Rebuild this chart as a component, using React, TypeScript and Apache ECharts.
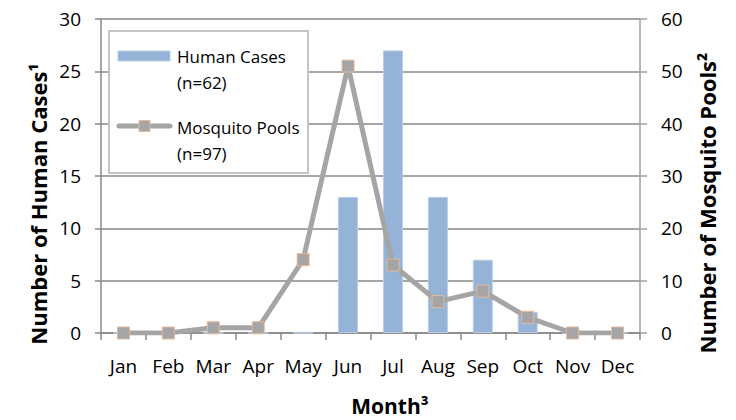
import React, { useEffect, useRef } from "react";
import * as echarts from "echarts";

const months = ["Jan", "Feb", "Mar", "Apr", "May", "Jun", "Jul", "Aug", "Sep", "Oct", "Nov", "Dec"];
const humanCases = [0, 0, 0, 0, 0, 13, 27, 13, 7, 2, 0, 0];
const mosquitoPools = [0, 0, 1, 1, 14, 51, 13, 6, 8, 3, 0, 0];
const humanLabel = "Human Cases";
const humanN = "(n=62)";
const poolLabel = "Mosquito Pools";
const poolN = "(n=97)";
const leftTitle = "Number of Human Cases¹";
const rightTitle = "Number of Mosquito Pools²";
const xTitle = "Month³";

const FONT = "'Open Sans', 'Noto Sans', sans-serif";
const GRID_COLOR = "#898989";

export default function App() {
  const ref = useRef<HTMLDivElement>(null);
  useEffect(() => {
    document.body.style.margin = "0";
    if (!ref.current) return;
    const chart = echarts.init(ref.current, null, { renderer: "svg" });
    chart.setOption({
      animation: false,
      backgroundColor: "#ffffff",
      textStyle: { fontFamily: FONT },
      grid: { left: 101, right: 96, top: 19, bottom: 87 },
      xAxis: {
        type: "category",
        data: months,
        boundaryGap: true,
        axisLine: { lineStyle: { color: GRID_COLOR, width: 1.5 } },
        axisTick: { show: true, length: 7, interval: 0, lineStyle: { color: GRID_COLOR, width: 1.5 } },
        axisLabel: { color: "#000", fontSize: 19, margin: 23, interval: 0, fontFamily: FONT },
      },
      yAxis: [
        {
          type: "value",
          min: 0,
          max: 30,
          interval: 5,
          axisLine: { show: true, lineStyle: { color: GRID_COLOR, width: 1.5 } },
          axisTick: { show: true, length: 6, lineStyle: { color: GRID_COLOR, width: 1.5 } },
          axisLabel: { color: "#000", fontSize: 19, margin: 20, fontFamily: FONT },
          splitLine: { show: true, lineStyle: { color: GRID_COLOR, width: 1.5 } },
        },
        {
          type: "value",
          min: 0,
          max: 60,
          interval: 10,
          axisLine: { show: true, lineStyle: { color: "#a0a0a0", width: 1.5 } },
          axisTick: { show: true, length: 7, lineStyle: { color: "#a0a0a0", width: 1.5 } },
          axisLabel: { color: "#000", fontSize: 19, margin: 21, fontFamily: FONT },
          splitLine: { show: false },
        },
      ],
      series: [
        {
          name: humanLabel,
          type: "bar",
          data: humanCases,
          yAxisIndex: 0,
          barWidth: 20,
          itemStyle: { color: "#95B3D7", borderColor: "#B9CDE5", borderWidth: 1 },
        },
        {
          name: poolLabel,
          type: "line",
          data: mosquitoPools,
          yAxisIndex: 1,
          symbol: "rect",
          symbolSize: 12,
          lineStyle: { color: "#A5A5A5", width: 5 },
          itemStyle: { color: "#A5A5A5", borderColor: "#E3B99C", borderWidth: 1 },
          z: 3,
        },
      ],
      graphic: [
        {
          type: "rect",
          shape: { x: 109, y: 31, width: 199, height: 142 },
          style: { fill: "#ffffff", stroke: "#C4C4C4", lineWidth: 2 },
          z: 10,
        },
        {
          type: "rect",
          shape: { x: 118, y: 51, width: 52, height: 10 },
          style: { fill: "#95B3D7", stroke: "#B9CDE5", lineWidth: 1 },
          z: 11,
        },
        {
          type: "text",
          x: 177,
          y: 56,
          style: { text: humanLabel, font: `17px ${FONT}`, fill: "#000", verticalAlign: "middle" },
          z: 11,
        },
        {
          type: "text",
          x: 177,
          y: 82,
          style: { text: humanN, font: `17px ${FONT}`, fill: "#000", verticalAlign: "middle" },
          z: 11,
        },
        {
          type: "line",
          shape: { x1: 119, y1: 126, x2: 170, y2: 126 },
          style: { stroke: "#A5A5A5", lineWidth: 5, lineCap: "round" },
          z: 11,
        },
        {
          type: "rect",
          shape: { x: 139, y: 120.5, width: 11, height: 11 },
          style: { fill: "#A5A5A5", stroke: "#E3B99C", lineWidth: 1 },
          z: 12,
        },
        {
          type: "text",
          x: 177,
          y: 127,
          style: { text: poolLabel, font: `17px ${FONT}`, fill: "#000", verticalAlign: "middle" },
          z: 11,
        },
        {
          type: "text",
          x: 177,
          y: 153,
          style: { text: poolN, font: `17px ${FONT}`, fill: "#000", verticalAlign: "middle" },
          z: 11,
        },
        {
          type: "text",
          x: 38,
          y: 204,
          rotation: Math.PI / 2,
          style: {
            text: leftTitle,
            font: `bold 22px ${FONT}`,
            fill: "#000",
            align: "center",
            verticalAlign: "middle",
          },
          z: 11,
        },
        {
          type: "text",
          x: 707,
          y: 203,
          rotation: Math.PI / 2,
          style: {
            text: rightTitle,
            font: `bold 22px ${FONT}`,
            fill: "#000",
            align: "center",
            verticalAlign: "middle",
          },
          z: 11,
        },
        {
          type: "text",
          x: 390,
          y: 406,
          style: {
            text: xTitle,
            font: `bold 21px ${FONT}`,
            fill: "#000",
            align: "center",
            verticalAlign: "middle",
          },
          z: 11,
        },
      ],
    });
    return () => chart.dispose();
  }, []);
  return <div ref={ref} style={{ width: 736, height: 420 }} />;
}
